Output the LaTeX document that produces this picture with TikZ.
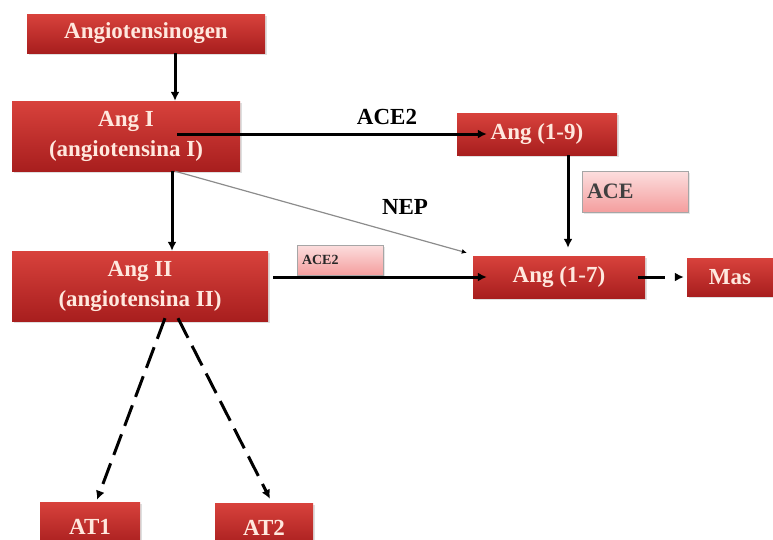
\documentclass[tikz,border=0pt]{standalone}
\usepackage{fontspec}
\setmainfont{Liberation Serif}
\usetikzlibrary{arrows.meta,shadows}
\definecolor{boxtop}{RGB}{216,66,60}
\definecolor{boxbot}{RGB}{168,30,30}
\definecolor{boxtxt}{RGB}{255,232,222}
\definecolor{pinktop}{RGB}{252,222,222}
\definecolor{pinkbot}{RGB}{244,158,158}
\begin{document}
\begin{tikzpicture}[x=1pt,y=-1pt,
  redbox/.style={top color=boxtop,bottom color=boxbot,text=boxtxt,inner sep=0pt,align=center,
    font=\fontsize{23}{30}\selectfont\bfseries,drop shadow={opacity=0.25,shadow xshift=2pt,shadow yshift=-2pt}},
  pinkbox/.style={top color=pinktop,bottom color=pinkbot,draw=black!35,inner sep=0pt,
    drop shadow={opacity=0.2,shadow xshift=1.5pt,shadow yshift=-1.5pt}},
  arr/.style={line width=3pt,-{Latex[length=9pt,width=9pt]}},
  dasharr/.style={arr,dash pattern=on 22pt off 9pt}]
\path[use as bounding box,clip] (0,0) rectangle (773,539);
\node[redbox,minimum width=238,minimum height=39] (agt) at (146,33.5) {Angiotensinogen};
\node[redbox,minimum width=228,minimum height=70] (angI) at (126,136) {Ang I\\(angiotensina I)};
\node[redbox,minimum width=160,minimum height=42] (ang19) at (537,134) {Ang (1-9)};
\node[pinkbox,minimum width=106,minimum height=41,text width=96,font=\fontsize{22}{26}\selectfont\bfseries,text=black!75] (ace) at (635,191.5) {ACE};
\node[redbox,minimum width=256,minimum height=70] (angII) at (140,286) {Ang II\\(angiotensina II)};
\node[pinkbox,minimum width=86,minimum height=30,text width=76,font=\fontsize{14}{16}\selectfont\bfseries,text=black!85] (acetwo) at (340,260) {ACE2};
\node[redbox,minimum width=172,minimum height=42] (ang17) at (559,277) {Ang (1-7)};
\node[redbox,minimum width=86,minimum height=38] (mas) at (730,277) {Mas};
\node[redbox,minimum width=100,minimum height=44,text depth=0pt] (atone) at (90,524) {AT1\strut};
\node[redbox,minimum width=98,minimum height=44,text depth=0pt] (attwo) at (264,525) {AT2\strut};
\node[font=\fontsize{23}{26}\selectfont\bfseries] (lblacetwo) at (387,117) {ACE2};
\node[font=\fontsize{23}{26}\selectfont\bfseries] (lblnep) at (405,207) {NEP};
\draw[arr] ([xshift=29pt]agt.south) -- ([xshift=49pt]angI.north);
\draw[arr] ([xshift=51pt,yshift=2pt]angI.center) -- ([xshift=30pt]ang19.west);
\draw[arr] ([xshift=46pt]angI.south) -- ([xshift=32pt]angII.north);
\draw[black!45,line width=1.2pt,-{Latex[length=5pt,width=5pt,black]}] ([xshift=49pt]angI.south) -- ([xshift=-6pt,yshift=3pt]ang17.north west);
\draw[arr] ([xshift=31pt]ang19.south) -- ([xshift=9pt,yshift=8pt]ang17.north);
\draw[arr] ([xshift=5pt,yshift=9pt]angII.east) -- ([xshift=14pt]ang17.west);
\draw[arr,dash pattern=on 27pt off 20pt] ([xshift=-7pt]ang17.east) -- ([xshift=-3pt]mas.west);
\draw[dasharr] ([xshift=25pt,yshift=3pt]angII.south) -- ([xshift=7pt,yshift=2pt]atone.north);
\draw[dasharr] ([xshift=38pt,yshift=3pt]angII.south) -- ([xshift=6pt,yshift=4pt]attwo.north);
\end{tikzpicture}
\end{document}
